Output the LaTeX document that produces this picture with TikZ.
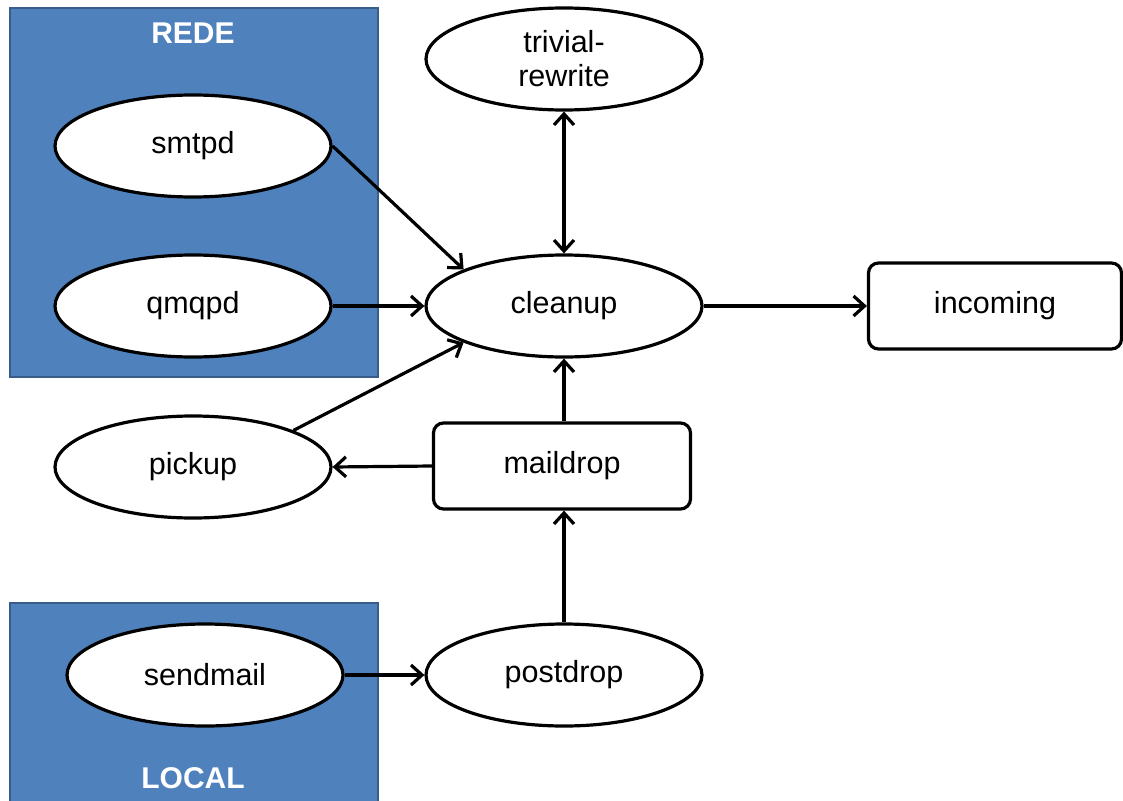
\documentclass[tikz,border=0pt]{standalone}
\usepackage{fontspec}
\setmainfont{Liberation Sans}
\usetikzlibrary{shapes.geometric,arrows.meta}
\definecolor{boxblue}{HTML}{4F81BD}
\definecolor{boxedge}{HTML}{385D8A}
\tikzset{
  proc/.style={ellipse,draw=black,line width=3.2pt,fill=white,minimum width=276pt,minimum height=102pt,inner sep=0pt,align=center,font=\fontsize{30.5}{32}\selectfont},
  store/.style={rectangle,rounded corners=10pt,draw=black,line width=3.2pt,fill=white,minimum height=86pt,inner sep=0pt,font=\fontsize{30.5}{32}\selectfont},
  group/.style={fill=boxblue,draw=boxedge,line width=2.4pt},
  grouplabel/.style={text=white,font=\bfseries\fontsize{30}{32}\selectfont},
  flow/.style={line width=3.2pt,-{Straight Barb[length=11pt,width=20pt]}},
  flowboth/.style={line width=3.2pt,{Straight Barb[length=11pt,width=20pt]}-{Straight Barb[length=11pt,width=20pt]}}
}
\begin{document}
\begin{tikzpicture}[x=1pt,y=-1pt]
\useasboundingbox (0,0) rectangle (1123,800);
\fill[white] (0,0) rectangle (1123,800);
\draw[group] (10,8) rectangle (378,377);
\draw[group] (10,603) rectangle (378,806);
\node[grouplabel] (rede) at (193,33) {REDE};
\node[grouplabel] (local) at (193,778) {LOCAL};
\node[proc] (smtpd) at (193,146) {smtpd};
\node[proc] (qmqpd) at (193,306) {qmqpd};
\node[proc] (pickup) at (193,467) {pickup};
\node[proc] (sendmail) at (205,675) {sendmail};
\node[proc] (trivial) at (564,59) {trivial-\\[2pt]rewrite};
\node[proc] (cleanup) at (564,306) {cleanup};
\node[proc] (postdrop) at (564,675) {postdrop};
\node[store,minimum width=253pt] (incoming) at (995,306) {incoming};
\node[store,minimum width=257pt] (maildrop) at (562,466) {maildrop};
\draw[flow] (smtpd.east) -- (cleanup.160);
\draw[flow] (qmqpd.east) -- (cleanup.west);
\draw[flow] (pickup.20) -- (cleanup.200);
\draw[flow] (maildrop.west) -- (pickup.east);
\draw[flow] (maildrop.north -| cleanup.south) -- (cleanup.south);
\draw[flow] (postdrop.north) -- (postdrop.north |- maildrop.south);
\draw[flow] (sendmail.east) -- (postdrop.west);
\draw[flowboth] (trivial.south) -- (cleanup.north);
\draw[flow] (cleanup.east) -- (incoming.west);
\end{tikzpicture}
\end{document}
